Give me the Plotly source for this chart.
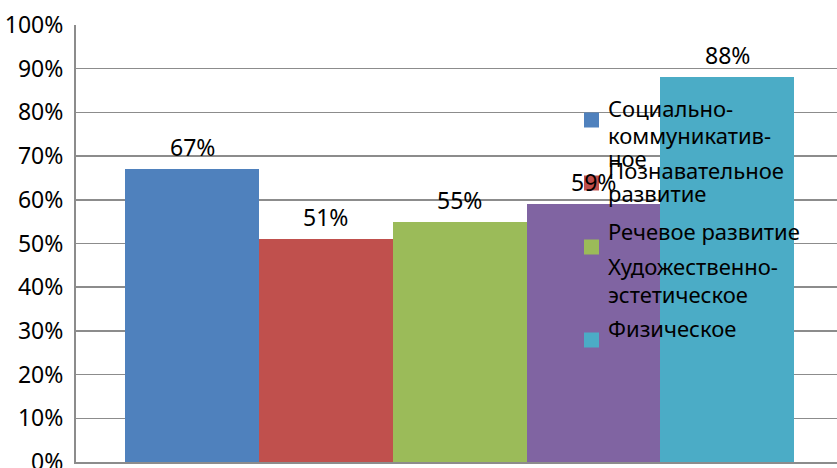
import plotly.graph_objects as go

# ---- data ----
series_names = ["Социально-\nкоммуникатив-\nное", "Познавательное\nразвитие",
                "Речевое развитие", "Художественно-\nэстетическое", "Физическое"]
values = [0.67, 0.51, 0.55, 0.59, 0.88]
value_labels = ["67%", "51%", "55%", "59%", "88%"]
colors = ["#4F81BD", "#C0504D", "#9BBB59", "#8064A2", "#4BACC6"]
y_ticks = [i / 10 for i in range(11)]

# ---- layout geometry ----
W, H = 837, 468
L, R, T, B = 76, 0, 25, 6
PW, PH = W - L - R, H - T - B
FONT = "Noto Sans"
FS_TICK = 23
FS_LEG = 22

def px_x(x):
    return (x - L) / PW

def px_y(y):
    return (H - B - y) / PH

fig = go.Figure()
fig.add_trace(go.Bar(
    x=list(range(len(values))), y=values,
    marker=dict(color=colors, line=dict(width=0)),
    showlegend=False, hoverinfo="skip",
))

annotations = []
for i, (v, lab) in enumerate(zip(values, value_labels)):
    annotations.append(dict(x=i, y=v, xref="x", yref="y", text=lab, showarrow=False,
                            yanchor="middle", xanchor="center", yshift=22,
                            font=dict(family=FONT, size=FS_TICK, color="black")))

# custom legend (text lines + squares)
legend_line_y = [[108, 135, 158], [170, 193], [231], [266, 294], [328]]
legend_marker_y = [120, 183, 247, 283, 340]
shapes = []
for name, lines_y, my, c in zip(series_names, legend_line_y, legend_marker_y, colors):
    shapes.append(dict(type="rect", xref="paper", yref="paper",
                       x0=px_x(584), x1=px_x(599), y0=px_y(my + 7.5), y1=px_y(my - 7.5),
                       fillcolor=c, line=dict(width=0), layer="above"))
    for line, ly in zip(name.split("\n"), lines_y):
        annotations.append(dict(x=px_x(606), y=px_y(ly), xref="paper", yref="paper",
                                text=line, showarrow=False, xanchor="left", yanchor="middle",
                                font=dict(family=FONT, size=FS_LEG, color="black")))

fig.update_layout(
    width=W, height=H,
    margin=dict(l=L, r=R, t=T, b=B, autoexpand=False),
    paper_bgcolor="white", plot_bgcolor="white",
    bargap=0,
    showlegend=False,
    annotations=annotations,
    shapes=shapes,
    font=dict(family=FONT, size=FS_TICK, color="black"),
    xaxis=dict(range=[-0.867, 4.82], showticklabels=False, showgrid=False, zeroline=False,
               showline=True, linecolor="#8c8c8c", linewidth=2, ticks=""),
    yaxis=dict(range=[0, 1], tickvals=y_ticks, tickformat=".0%", showgrid=True,
               gridcolor="#8c8c8c", gridwidth=1.5, zeroline=False, showline=True,
               linecolor="#8c8c8c", linewidth=2, ticks="", ticklabelstandoff=6,
               ticklabeloverflow="allow",
               tickfont=dict(family=FONT, size=FS_TICK, color="black")),
)
fig.write_html("out.html", config={"displayModeBar": False, "staticPlot": True})

# remove default page margin so the figure sits at the window's top-left corner
with open("out.html", encoding="utf-8") as f:
    html = f.read()
html = html.replace("<body>", '<body style="margin:0;padding:0;overflow:hidden">', 1)
with open("out.html", "w", encoding="utf-8") as f:
    f.write(html)
